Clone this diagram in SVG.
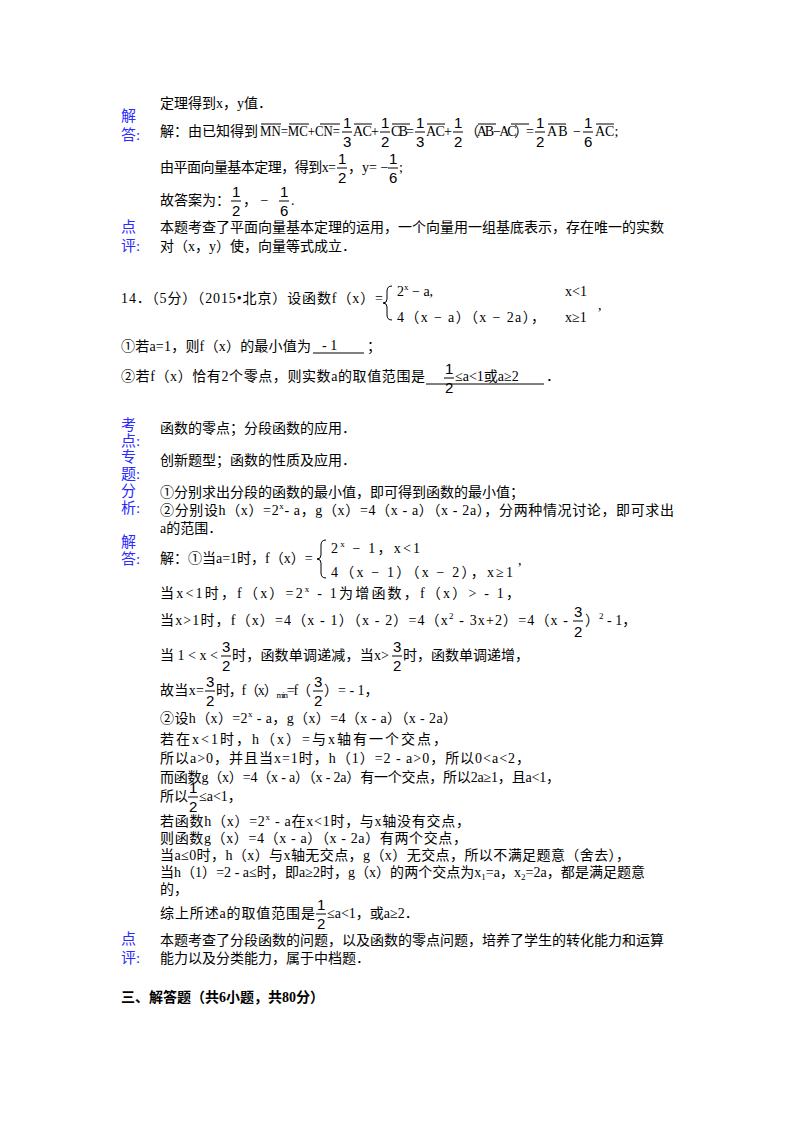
<svg xmlns="http://www.w3.org/2000/svg" width="800" height="1132" viewBox="0 0 800 1132">
<style>
text{font-family:"Liberation Serif","Noto Sans CJK SC",serif;font-size:14px;fill:#000}
.l{fill:#2b2bff;font-size:15px}
.f{font-size:15px;font-family:"Liberation Sans","Noto Sans CJK SC",sans-serif}
.s{font-size:9px}
line{stroke:#000;stroke-width:1}
.b{font-weight:bold}
</style>
<g id="labels">
<text class="l" x="121" y="121">解</text><text class="l" x="121" y="140">答:</text>
<text class="l" x="121" y="232">点</text><text class="l" x="121" y="251">评:</text>
<text class="l" x="121" y="430">考</text><text class="l" x="121" y="446">点:</text>
<text class="l" x="121" y="462">专</text><text class="l" x="121" y="479">题:</text>
<text class="l" x="121" y="496">分</text><text class="l" x="121" y="513">析:</text>
<text class="l" x="121" y="547">解</text><text class="l" x="121" y="564">答:</text>
<text class="l" x="121" y="944">点</text><text class="l" x="121" y="963">评:</text>
</g>
<g id="part13">
<text x="160" y="108">定理得到x，y值．</text>
<text x="160" y="136">解：由已知得到</text>
<text x="260" y="136" textLength="80" lengthAdjust="spacingAndGlyphs">MN=MC+CN=</text>
<text class="f" x="343" y="128">1</text><line x1="342" y1="132" x2="352" y2="132"/><text class="f" x="343" y="147">3</text>
<text x="353" y="136" textLength="26">AC+</text>
<text class="f" x="381" y="128">1</text><line x1="380" y1="132" x2="390" y2="132"/><text class="f" x="381" y="147">2</text>
<text x="391" y="136" textLength="23">CB=</text>
<text class="f" x="416" y="128">1</text><line x1="415" y1="132" x2="425" y2="132"/><text class="f" x="416" y="147">3</text>
<text x="426" y="136" textLength="26">AC+</text>
<text class="f" x="454" y="128">1</text><line x1="453" y1="132" x2="463" y2="132"/><text class="f" x="454" y="147">2</text>
<text x="465" y="136" textLength="69">（AB − AC）=</text>
<text class="f" x="536" y="128">1</text><line x1="535" y1="132" x2="545" y2="132"/><text class="f" x="536" y="147">2</text>
<text x="547" y="136" textLength="34">AB −</text>
<text class="f" x="584" y="128">1</text><line x1="583" y1="132" x2="593" y2="132"/><text class="f" x="584" y="147">6</text>
<text x="595" y="136">AC;</text>
<g stroke="#000" stroke-width="1">
<line x1="261" y1="124" x2="281" y2="124"/><line x1="289" y1="124" x2="309" y2="124"/><line x1="320" y1="124" x2="340" y2="124"/>
<line x1="354" y1="124" x2="372" y2="124"/><line x1="392" y1="124" x2="410" y2="124"/><line x1="427" y1="124" x2="445" y2="124"/>
<line x1="478" y1="124" x2="496" y2="124"/><line x1="511" y1="124" x2="529" y2="124"/><line x1="548" y1="124" x2="566" y2="124"/><line x1="596" y1="124" x2="614" y2="124"/>
</g>
<text x="160" y="172" textLength="176">由平面向量基本定理，得到x=</text>
<text class="f" x="338" y="164">1</text><line x1="337" y1="168" x2="347" y2="168"/><text class="f" x="338" y="183">2</text>
<text x="348" y="172">，y= −</text>
<text class="f" x="389" y="164">1</text><line x1="388" y1="168" x2="398" y2="168"/><text class="f" x="389" y="183">6</text>
<text x="399" y="172">;</text>
<text x="160" y="205">故答案为：</text>
<text class="f" x="232" y="197">1</text><line x1="231" y1="201" x2="241" y2="201"/><text class="f" x="232" y="216">2</text>
<text x="243" y="205">，  −</text>
<text class="f" x="280" y="197">1</text><line x1="279" y1="201" x2="289" y2="201"/><text class="f" x="280" y="216">6</text>
<text x="291" y="205">.</text>
<text x="160" y="232">本题考查了平面向量基本定理的运用，一个向量用一组基底表示，存在唯一的实数</text>
<text x="160" y="251">对（x，y）使，向量等式成立．</text>
</g>
<g id="part14">
<text x="121" y="303" textLength="262">14．（5分）（2015•北京）设函数f（x）=</text>
<path d="M392 286 q-5 0 -5 5 v8 q0 4 -4 4 q4 0 4 4 v8 q0 5 5 5" fill="none" stroke="#000"/>
<text x="397" y="296">2<tspan class="s" dy="-6">x</tspan><tspan dy="6"> − a,</tspan></text>
<text x="565" y="296">x&lt;1</text>
<text x="397" y="322" textLength="148">4（x − a）（x − 2a），</text>
<text x="565" y="322">x≥1</text>
<text x="598" y="310">,</text>
<text x="121" y="351" textLength="190">①若a=1，则f（x）的最小值为</text>
<text x="322" y="350">- 1</text><line x1="313" y1="353" x2="364" y2="353"/>
<text x="367" y="351">；</text>
<text x="121" y="381" textLength="304">②若f（x）恰有2个零点，则实数a的取值范围是</text>
<text class="f" x="445" y="374">1</text><line x1="444" y1="378" x2="454" y2="378"/><text class="f" x="445" y="393">2</text>
<text x="455" y="381">≤a&lt;1或a≥2</text><line x1="426" y1="384" x2="544" y2="384"/>
<text x="546" y="381">．</text>
<text x="160" y="433">函数的零点；分段函数的应用．</text>
<text x="160" y="465">创新题型；函数的性质及应用．</text>
<text x="160" y="497">①分别求出分段的函数的最小值，即可得到函数的最小值；</text>
<text x="160" y="515" textLength="514">②分别设h（x）=2<tspan class="s" dy="-6">x</tspan><tspan dy="6">- a，g（x）=4（x - a）（x - 2a），分两种情况讨论，即可求出</tspan></text>
<text x="160" y="533">a的范围．</text>
<text x="160" y="563">解：①当a=1时，f（x）=</text>
<path d="M326 540 q-5 0 -5 5 v10 q0 4 -4 4 q4 0 4 4 v10 q0 5 5 5" fill="none" stroke="#000"/>
<text x="331" y="553" textLength="89">2<tspan class="s" dy="-6">x</tspan><tspan dy="6"> − 1，x&lt;1</tspan></text>
<text x="331" y="577" textLength="182">4（x − 1）（x − 2），x≥1</text>
<text x="518" y="565">,</text>
<text x="160" y="598" textLength="360">当x&lt;1时，f（x）=2<tspan class="s" dy="-6">x</tspan><tspan dy="6"> - 1为增函数，f（x）&gt; - 1，</tspan></text>
<text x="160" y="625" textLength="408">当x&gt;1时，f（x）=4（x - 1）（x - 2）=4（x<tspan class="s" dy="-6">2</tspan><tspan dy="6"> - 3x+2）=4（x -</tspan></text>
<text class="f" x="574" y="617">3</text><line x1="573" y1="621" x2="583" y2="621"/><text class="f" x="574" y="637">2</text>
<text x="585" y="625">）<tspan class="s" dy="-6">2</tspan><tspan dy="6"> - 1，</tspan></text>
<text x="160" y="660" textLength="58">当1&lt;x&lt;</text>
<text class="f" x="222" y="652">3</text><line x1="221" y1="656" x2="231" y2="656"/><text class="f" x="222" y="671">2</text>
<text x="232" y="660" textLength="157">时，函数单调递减，当x&gt;</text>
<text class="f" x="393" y="652">3</text><line x1="392" y1="656" x2="402" y2="656"/><text class="f" x="393" y="671">2</text>
<text x="403" y="660">时，函数单调递增，</text>
<text x="160" y="695" textLength="44">故当x=</text>
<text class="f" x="206" y="687">3</text><line x1="205" y1="691" x2="215" y2="691"/><text class="f" x="206" y="706">2</text>
<text x="216" y="695" textLength="95">时，f（x）<tspan class="s" dy="3">min</tspan><tspan dy="-3">=f（</tspan></text>
<text class="f" x="314" y="687">3</text><line x1="313" y1="691" x2="323" y2="691"/><text class="f" x="314" y="706">2</text>
<text x="324" y="695">）= - 1，</text>
<text x="160" y="723" textLength="297">②设h（x）=2<tspan class="s" dy="-6">x</tspan><tspan dy="6"> - a，g（x）=4（x - a）（x - 2a）</tspan></text>
<text x="160" y="744" textLength="287">若在x&lt;1时，h（x）=与x轴有一个交点，</text>
<text x="160" y="763" textLength="370">所以a&gt;0，并且当x=1时，h（1）=2 - a&gt;0，所以0&lt;a&lt;2，</text>
<text x="160" y="782" textLength="400">而函数g（x）=4（x - a）（x - 2a）有一个交点，所以2a≥1，且a&lt;1，</text>
<text x="160" y="801">所以</text>
<text class="f" x="189" y="793">1</text><line x1="188" y1="797" x2="198" y2="797"/><text class="f" x="189" y="812">2</text>
<text x="199" y="801">≤a&lt;1，</text>
<text x="160" y="826" textLength="310">若函数h（x）=2<tspan class="s" dy="-6">x</tspan><tspan dy="6"> - a在x&lt;1时，与x轴没有交点，</tspan></text>
<text x="160" y="843" textLength="307">则函数g（x）=4（x - a）（x - 2a）有两个交点，</text>
<text x="160" y="860" textLength="470">当a≤0时，h（x）与x轴无交点，g（x）无交点，所以不满足题意（舍去），</text>
<text x="160" y="877" textLength="485">当h（1）=2 - a≤时，即a≥2时，g（x）的两个交点为x<tspan class="s" dy="3">1</tspan><tspan dy="-3">=a，x</tspan><tspan class="s" dy="3">2</tspan><tspan dy="-3">=2a，都是满足题意</tspan></text>
<text x="160" y="894">的，</text>
<text x="160" y="918" textLength="155">综上所述a的取值范围是</text>
<text class="f" x="317" y="910">1</text><line x1="316" y1="914" x2="326" y2="914"/><text class="f" x="317" y="929">2</text>
<text x="327" y="918">≤a&lt;1，或a≥2．</text>
<text x="160" y="945">本题考查了分段函数的问题，以及函数的零点问题，培养了学生的转化能力和运算</text>
<text x="160" y="963">能力以及分类能力，属于中档题．</text>
</g>
<text class="b" x="121" y="1002">三、解答题（共6小题，共80分）</text>
</svg>
